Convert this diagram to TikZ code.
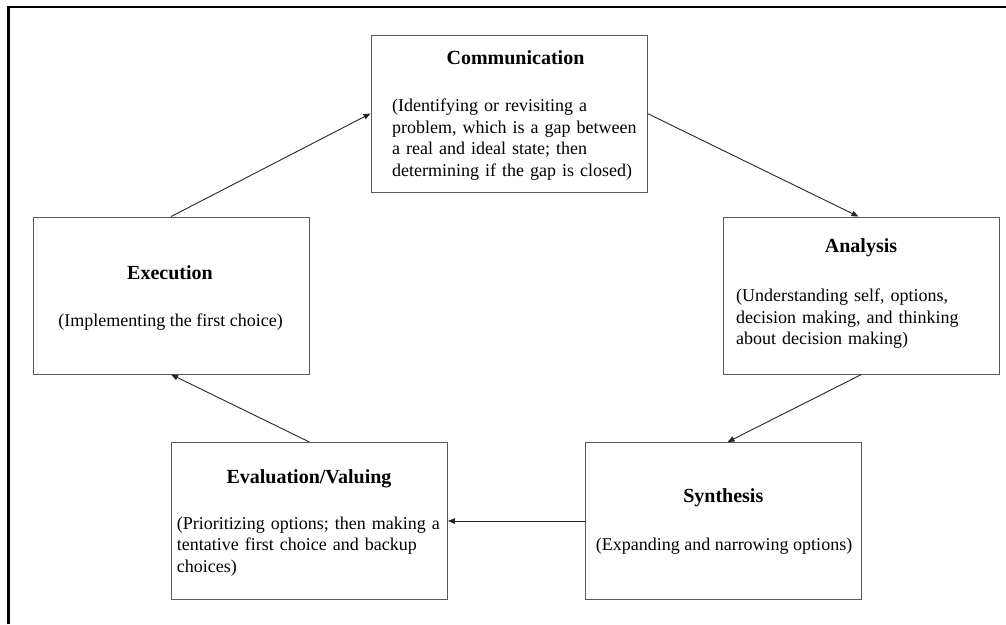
\documentclass[tikz,border=0pt]{standalone}
\usepackage{fontspec}
\setmainfont{Liberation Serif}
\usetikzlibrary{arrows.meta}
\definecolor{boxline}{HTML}{5A5A5A}
\definecolor{arrowline}{HTML}{262626}
\begin{document}
\begin{tikzpicture}[x=1pt,y=-1pt,
  stage/.style={draw=boxline, line width=0.9pt, minimum width=276pt, minimum height=157pt, inner sep=0pt},
  ttl/.style={font=\fontsize{20}{24}\selectfont\bfseries, inner sep=0pt, anchor=base},
  desc/.style={font=\fontsize{18}{21.6}\selectfont, inner sep=0pt, text width=270pt, align=left, anchor=base west},
  descc/.style={font=\fontsize{18}{21.6}\selectfont, inner sep=0pt, anchor=base},
  flow/.style={draw=arrowline, line width=0.9pt, -{Triangle[length=7pt,width=5.5pt]}}]
\useasboundingbox (0,0) rectangle (1006,624);

% page frame (top and left edges)
\draw[line width=2.5pt] (8.5,624) -- (8.5,7) -- (1006,7);

% the five stages of the cycle
\node[stage] (comm)  at (509,113.5) {};
\node[stage] (anal)  at (861.5,295.5) {};
\node[stage] (exec)  at (171,295.5) {};
\node[stage] (eval)  at (309.5,521) {};
\node[stage] (synth) at (723.5,521) {};

% stage titles
\node[ttl] (commT)  at (515.5,64.3) {Communication};
\node[ttl] (analT)  at (861,252.7)  {Analysis};
\node[ttl] (execT)  at (170,279)    {Execution};
\node[ttl] (evalT)  at (309,483.3)  {Evaluation/Valuing};
\node[ttl] (synthT) at (723.3,502.7) {Synthesis};

% stage descriptions
\node[desc] (commD) at (392,111.7) {(Identifying or revisiting a\\problem, which is a gap between\\a real and ideal state; then\\determining if the gap is closed)};
\node[desc] (analD) at (736,301.7) {(Understanding self, options,\\decision making, and thinking\\about decision making)};
\node[descc] (execD) at (170.5,326.7) {(Implementing the first choice)};
\node[desc] (evalD) at (176.7,529.3) {(Prioritizing options; then making a\\tentative first choice and backup\\choices)};
\node[descc] (synthD) at (724,550.7) {(Expanding and narrowing options)};

% cycle connectors
\draw[flow] (comm.east) -- ([xshift=-3pt]anal.north);
\draw[flow] (anal.south) -- ([xshift=4pt]synth.north);
\draw[flow] (synth.west) -- (eval.east);
\draw[flow] (eval.north) -- (exec.south);
\draw[flow] (exec.north) -- (comm.west);
\end{tikzpicture}
\end{document}
